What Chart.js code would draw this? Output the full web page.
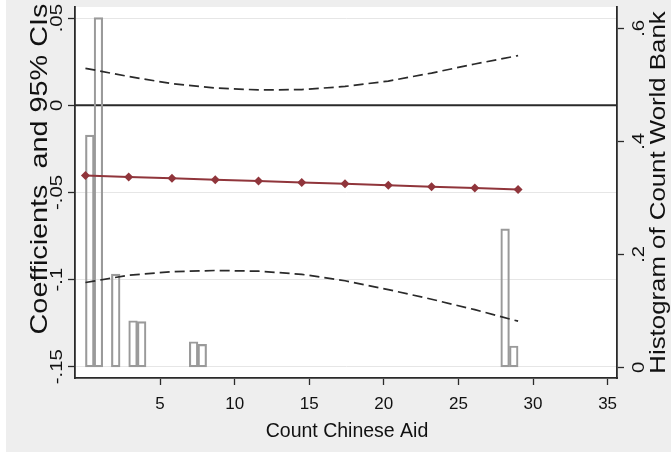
<!DOCTYPE html>
<html>
<head>
<meta charset="utf-8">
<script src="https://cdn.jsdelivr.net/npm/chart.js@4"></script>
<style>
  html, body { margin: 0; padding: 0; background: #fff; }
  canvas { display: block; }
</style>
</head>
<body>
<canvas id="chart" width="671" height="453"></canvas>
<script>
// marginal effect of count chinese aid, with 95% CIs
const aidValues = [0, 2.9, 5.8, 8.7, 11.6, 14.5, 17.4, 20.3, 23.2, 26.1, 29];
const coefs = [-0.0403, -0.0411, -0.0419, -0.0427, -0.0435, -0.0443, -0.0451, -0.0459, -0.0467, -0.0475, -0.0483];
const ciUpper = [0.0212, 0.0165, 0.0124, 0.0099, 0.0088, 0.0090, 0.0108, 0.0139, 0.0185, 0.0237, 0.0285];
const ciLower = [-0.1017, -0.0975, -0.0955, -0.0948, -0.0952, -0.0970, -0.1007, -0.1058, -0.1113, -0.1173, -0.1239];

// histogram of count world bank (bin centres, density)
const histBins = [0.29, 0.87, 2.03, 3.19, 3.77, 7.25, 7.83, 28.13, 28.71];
const histDensity = [0.411, 0.619, 0.165, 0.0825, 0.081, 0.0453, 0.0407, 0.245, 0.0377];

// axes
const xTicks = [5, 10, 15, 20, 25, 30, 35];
const leftTicks = [-0.15, -0.1, -0.05, 0, 0.05];
const leftLabels = ['-.15', '-.1', '-.05', '0', '.05'];
const rightTicks = [0, 0.2, 0.4, 0.6];
const rightLabels = ['0', '.2', '.4', '.6'];
const xRange = [-0.7, 35.63];
const leftRange = [-0.1565, 0.0564];
const rightRange = [-0.0189, 0.6377];

const FONT = '"Liberation Sans", Arial, sans-serif';
const TEXT = '#111111';
const AXIS = '#2a2a2a';

function rotText(ctx, txt, x, y, size, stretch) {
  ctx.save();
  ctx.translate(x, y);
  ctx.rotate(-Math.PI / 2);
  ctx.scale(stretch, 1);
  ctx.font = size + 'px ' + FONT;
  ctx.textAlign = 'center';
  ctx.textBaseline = 'alphabetic';
  ctx.fillStyle = TEXT;
  ctx.fillText(txt, 0, 0);
  ctx.restore();
}

const backdrop = {
  id: 'backdrop',
  beforeDraw(chart) {
    const ctx = chart.ctx, a = chart.chartArea;
    ctx.save();
    ctx.fillStyle = '#ffffff';
    ctx.fillRect(0, 0, chart.width, chart.height);
    ctx.fillStyle = '#eeeeee';
    ctx.fillRect(6, 0, chart.width - 6, chart.height - 1);
    ctx.fillStyle = '#ffffff';
    ctx.fillRect(a.left, a.top, a.right - a.left, a.bottom - a.top);
    ctx.restore();
  }
};

const labels = {
  id: 'labels',
  afterDraw(chart) {
    const ctx = chart.ctx, s = chart.scales;
    leftTicks.forEach((v, i) => rotText(ctx, leftLabels[i], 62, s.y.getPixelForValue(v), 17, 1.2));
    rightTicks.forEach((v, i) => rotText(ctx, rightLabels[i], 644, s.y2.getPixelForValue(v), 17, 1.2));
    ctx.save();
    ctx.fillStyle = TEXT;
    ctx.textAlign = 'center';
    ctx.textBaseline = 'alphabetic';
    ctx.font = '17px ' + FONT;
    xTicks.forEach(v => ctx.fillText(String(v), s.x.getPixelForValue(v), 409));
    ctx.font = '19.5px ' + FONT;
    ctx.fillText('Count Chinese Aid', 347, 437);
    ctx.restore();
    rotText(ctx, 'Coefficients  and 95% CIs', 47, 169, 24, 1.2);
    rotText(ctx, 'Histogram of Count World Bank', 665, 192.5, 21.5, 1.2);
  }
};

const pts = (xs, ys) => xs.map((x, i) => ({ x: x, y: ys[i] }));

new Chart(document.getElementById('chart'), {
  type: 'bar',
  data: {
    datasets: [
      {
        // yline(0)
        type: 'line',
        data: [{ x: xRange[0], y: 0 }, { x: xRange[1], y: 0 }],
        yAxisID: 'y',
        borderColor: '#2a2a2a',
        borderWidth: 2,
        pointRadius: 0,
        order: 4
      },
      {
        type: 'bar',
        data: pts(histBins, histDensity),
        yAxisID: 'y2',
        backgroundColor: 'rgba(255,255,255,0)',
        borderColor: '#9a9a9a',
        borderWidth: 1.5,
        borderSkipped: false,
        barPercentage: 1,
        categoryPercentage: 1,
        order: 3
      },
      {
        type: 'line',
        data: pts(aidValues, ciUpper),
        yAxisID: 'y',
        borderColor: '#2a2a2a',
        borderWidth: 1.7,
        borderDash: [10, 5],
        pointRadius: 0,
        order: 1
      },
      {
        type: 'line',
        data: pts(aidValues, ciLower),
        yAxisID: 'y',
        borderColor: '#2a2a2a',
        borderWidth: 1.7,
        borderDash: [10, 5],
        pointRadius: 0,
        order: 1
      },
      {
        type: 'line',
        data: pts(aidValues, coefs),
        yAxisID: 'y',
        borderColor: '#90353B',
        borderWidth: 2,
        pointStyle: 'rectRot',
        pointRadius: 4.5,
        pointBackgroundColor: '#90353B',
        pointBorderWidth: 0,
        order: 0
      }
    ]
  },
  options: {
    responsive: false,
    animation: false,
    devicePixelRatio: 1,
    layout: { padding: { top: 7, left: 0, right: 0, bottom: 0 } },
    plugins: { legend: { display: false }, tooltip: { enabled: false } },
    scales: {
      x: {
        type: 'linear',
        min: xRange[0],
        max: xRange[1],
        offset: false,
        afterBuildTicks: sc => { sc.ticks = xTicks.map(v => ({ value: v })); },
        afterFit: sc => { sc.height = 75; },
        ticks: { display: false },
        grid: { offset: false, drawOnChartArea: false, tickLength: 7, tickColor: AXIS, tickWidth: 1.3 },
        border: { color: AXIS, width: 1.8 }
      },
      y: {
        position: 'left',
        min: leftRange[0],
        max: leftRange[1],
        afterBuildTicks: sc => { sc.ticks = leftTicks.map(v => ({ value: v })); },
        afterFit: sc => { sc.width = 75; },
        ticks: { display: false },
        grid: { color: '#e6e6e6', lineWidth: 1, tickLength: 7, tickColor: AXIS, tickWidth: 1.3 },
        border: { color: AXIS, width: 1.8 }
      },
      y2: {
        position: 'right',
        min: rightRange[0],
        max: rightRange[1],
        afterBuildTicks: sc => { sc.ticks = rightTicks.map(v => ({ value: v })); },
        afterFit: sc => { sc.width = 54; },
        ticks: { display: false },
        grid: { drawOnChartArea: false, tickLength: 7, tickColor: AXIS, tickWidth: 1.3 },
        border: { color: AXIS, width: 1.8 }
      }
    }
  },
  plugins: [backdrop, labels]
});
</script>
</body>
</html>
